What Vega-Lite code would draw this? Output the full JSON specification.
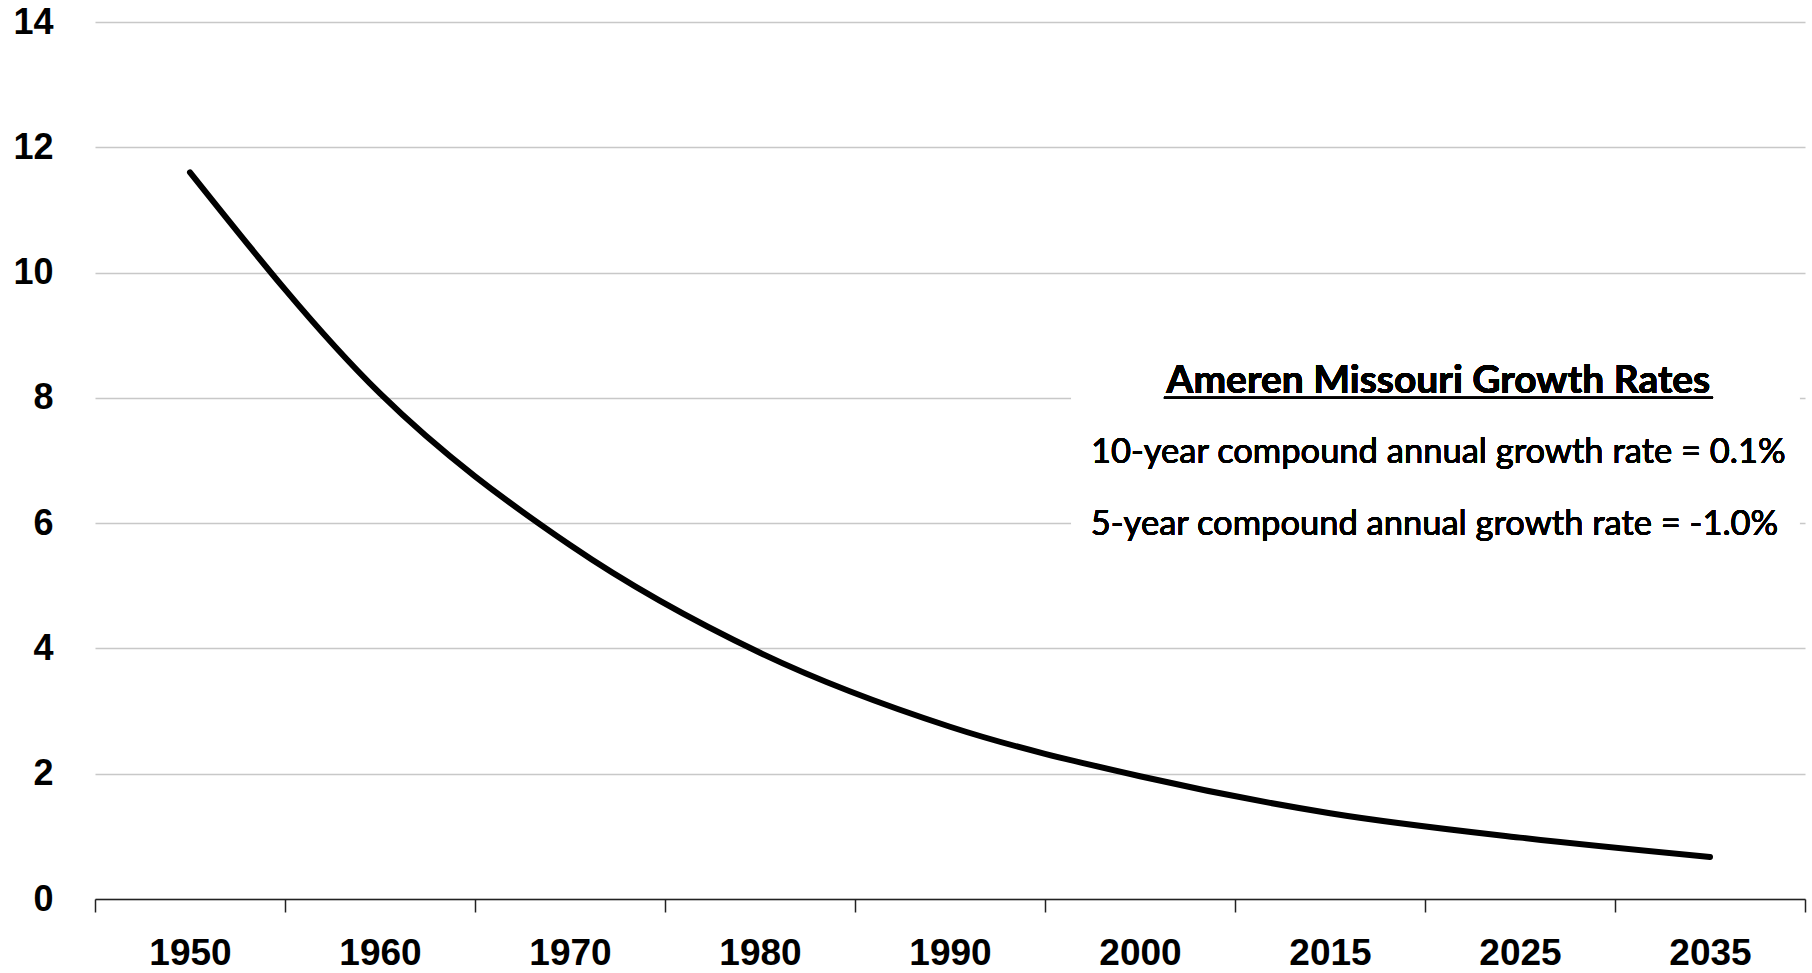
{
  "$schema": "https://vega.github.io/schema/vega-lite/v6.json",
  "width": 1710,
  "height": 877,
  "autosize": {"type": "none"},
  "padding": {"left": 95, "top": 22, "right": 7, "bottom": 74},
  "background": "white",
  "config": {"view": {"stroke": null}},
  "data": {"values": [
    {"year": "1950", "value": 11.6},
    {"year": "1960", "value": 8.07},
    {"year": "1970", "value": 5.65},
    {"year": "1980", "value": 3.93},
    {"year": "1990", "value": 2.75},
    {"year": "2000", "value": 1.96},
    {"year": "2015", "value": 1.37},
    {"year": "2025", "value": 0.98},
    {"year": "2035", "value": 0.67}
  ]},
  "layer": [
    {
      "mark": {"type": "line", "color": "black", "strokeWidth": 6, "strokeCap": "round", "interpolate": "monotone"},
      "encoding": {
        "x": {"field": "year", "type": "ordinal", "sort": null, "bandPosition": 0.5,
          "scale": {"type": "band", "paddingInner": 0, "paddingOuter": 0},
          "axis": {"title": null, "labelAngle": 0, "tickBand": "extent", "grid": false,
            "domainColor": "#222", "domainWidth": 1.5, "tickColor": "#222", "tickWidth": 1.5, "tickSize": 13,
            "labelFont": "Liberation Sans", "labelFontWeight": "bold", "labelFontSize": 37, "labelColor": "black",
            "labelPadding": 23}},
        "y": {"field": "value", "type": "quantitative",
          "scale": {"domain": [0, 14], "nice": false},
          "axis": {"title": null, "values": [0, 2, 4, 6, 8, 10, 12, 14], "format": "d", "domain": false, "ticks": false,
            "gridColor": "#c8c8c8", "gridWidth": 1.4,
            "labelFont": "Liberation Sans", "labelFontWeight": "bold", "labelFontSize": 36, "labelColor": "black",
            "labelPadding": 42}}
      }
    },
    {
      "mark": {"type": "rect", "color": "white"},
      "encoding": {
        "x": {"datum": 5.14, "type": "quantitative", "scale": {"domain": [0, 9], "nice": false, "zero": false}, "axis": null},
        "x2": {"datum": 8.97},
        "y": {"datum": 5.6, "type": "quantitative"},
        "y2": {"datum": 8.7}
      }
    },
    {
      "mark": {"type": "text", "text": "Ameren Missouri Growth Rates", "font": "Lato", "fontWeight": "bold", "fontSize": 39, "align": "center", "baseline": "alphabetic", "color": "black"},
      "encoding": {
        "x": {"datum": 7.07, "type": "quantitative", "scale": {"domain": [0, 9], "nice": false, "zero": false}, "axis": null},
        "y": {"datum": 8.078, "type": "quantitative"}
      }
    },
    {
      "mark": {"type": "rule", "color": "black", "strokeWidth": 2},
      "encoding": {
        "x": {"datum": 5.626, "type": "quantitative", "scale": {"domain": [0, 9], "nice": false, "zero": false}, "axis": null},
        "x2": {"datum": 8.516},
        "y": {"datum": 8.0, "type": "quantitative"}
      }
    },
    {
      "mark": {"type": "text", "text": "10-year compound annual growth rate = 0.1%", "font": "Lato", "fontSize": 34.5, "align": "center", "baseline": "alphabetic", "color": "black"},
      "encoding": {
        "x": {"datum": 7.07, "type": "quantitative", "scale": {"domain": [0, 9], "nice": false, "zero": false}, "axis": null},
        "y": {"datum": 6.96, "type": "quantitative"}
      }
    },
    {
      "mark": {"type": "text", "text": "5-year compound annual growth rate = -1.0%", "font": "Lato", "fontSize": 34.5, "align": "center", "baseline": "alphabetic", "color": "black"},
      "encoding": {
        "x": {"datum": 7.05, "type": "quantitative", "scale": {"domain": [0, 9], "nice": false, "zero": false}, "axis": null},
        "y": {"datum": 5.81, "type": "quantitative"}
      }
    }
  ],
  "resolve": {"scale": {"x": "independent"}}
}
